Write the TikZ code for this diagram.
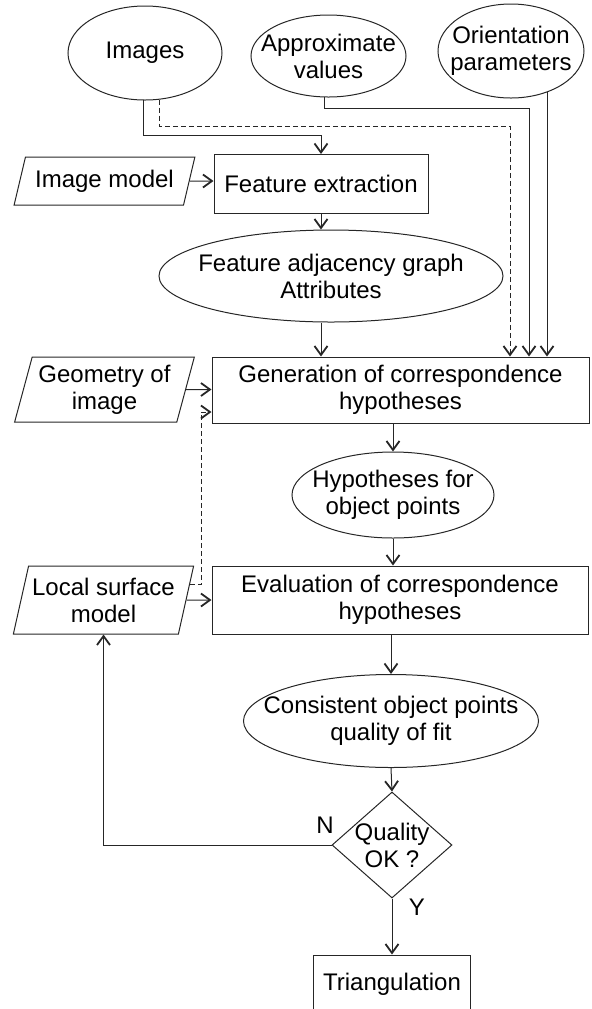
\documentclass[tikz,border=0pt]{standalone}
\usepackage{fontspec}
\setmainfont{Liberation Sans}
\usetikzlibrary{arrows.meta, positioning, shapes.geometric, calc}

\tikzset{
  every node/.style={font=\fontsize{12}{13.5}\selectfont, align=center},
  line/.style={draw=black!85, line width=0.5pt},
  proc/.style={line, rectangle, inner sep=0pt},
  data/.style={line, ellipse, inner xsep=-14pt, inner ysep=-6pt},
  para/.style={line, trapezium, trapezium stretches=true,
    minimum width=90.5pt, inner sep=0pt},
  test/.style={line, diamond, inner xsep=0pt, inner ysep=-5pt},
  arr/.style={line, -{Straight Barb[length=4.5pt, width=6.5pt, line width=0.9pt]}},
  dsh/.style={dash pattern=on 2.5pt off 1.5pt}
}

\begin{document}
\begin{tikzpicture}[x=0.5pt, y=-0.5pt]
  \useasboundingbox (0,0) rectangle (591,1009);

  % inputs
  \node[data, minimum width=77pt, minimum height=47pt] (img) at (145,53) {Images};
  \node[data, minimum width=77.5pt, minimum height=41pt] (apx) at (328.5,56) {Approximate\\values};
  \node[data, minimum width=73pt, minimum height=47pt] (ori) at (511,51) {Orientation\\parameters};

  % left column
  \node[para, trapezium left angle=66, trapezium right angle=114,
    minimum height=24pt] (imod) at (104.5,181) {Image model};
  \node[para, trapezium left angle=72, trapezium right angle=108,
    minimum height=32.5pt] (geom) at (104.5,389.5) {Geometry of\\image};
  \node[para, trapezium left angle=72, trapezium right angle=108,
    minimum height=34pt] (local) at (103.5,600) {Local surface\\model};

  % main flow
  \node[proc, minimum width=107pt, minimum height=29.5pt] (feat) at (321,184) {Feature extraction};
  \node[data, minimum width=172pt, minimum height=46pt] (fag) at (331,276) {Feature adjacency graph\\Attributes};
  \node[proc, minimum width=188.5pt, minimum height=33pt] (gen) at (400.5,390) {Generation of correspondence\\hypotheses};
  \node[data, minimum width=101pt, minimum height=43pt] (hyp) at (393,495) {Hypotheses for\\object points};
  \node[proc, minimum width=188pt, minimum height=34pt] (eva) at (400,600) {Evaluation of correspondence\\hypotheses};
  \node[data, minimum width=147.5pt, minimum height=46.5pt] (con) at (391,721) {Consistent object points\\quality of fit};
  \node[test, minimum width=60pt, minimum height=53pt] (dia) at (392,845) {Quality\\OK ?};
  \node[proc, minimum width=78.5pt, minimum height=29pt] (tri) at (392,984) {Triangulation};

  \node (nlbl) at (325,825) {N};
  \node (ylbl) at (417,907) {Y};

  % bend points
  \coordinate (imgbend) at (143,135);
  \coordinate (dshbend) at (510,126);
  \coordinate (apxbend) at (529,108);
  \coordinate (locup) at (201,412);
  \coordinate (locstart) at ($(local.top right corner)!0.28!(local.bottom right corner)$);

  % connectors
  \draw[arr] (img.268) |- (imgbend -| feat.north) -- (feat.north);
  \draw[arr, dsh] (img.287) |- (dshbend) -- (dshbend |- gen.north);
  \draw[arr] (apx.264) |- (apxbend) -- (apxbend |- gen.north);
  \draw[arr] (ori.311) -- (ori.311 |- gen.north);
  \draw[arr] (imod) -- (imod -| feat.west);
  \draw[arr] (feat.south) -- (feat.south |- fag.north);
  \draw[arr] (fag.south -| feat.south) -- (feat.south |- gen.north);
  \draw[arr] (geom) -- (geom -| gen.west);
  \draw[arr, dsh] (locstart) -- (locup |- locstart) -- (locup) -- (locup -| gen.west);
  \draw[arr] (local) -- (local -| eva.west);
  \draw[arr] (hyp.north |- gen.south) -- (hyp.north);
  \draw[arr] (hyp.south) -- (hyp.south |- eva.north);
  \draw[arr] (con.north |- eva.south) -- (con.north);
  \draw[arr] (con.south) -- (dia.north);
  \draw[arr] (dia.south) -- (tri.north);
  \draw[arr] (dia.west) -| (local.south);
\end{tikzpicture}
\end{document}
